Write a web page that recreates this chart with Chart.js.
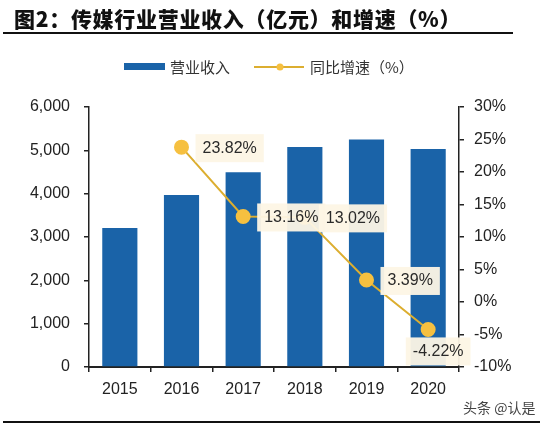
<!DOCTYPE html>
<html>
<head>
<meta charset="utf-8">
<script src="https://cdn.jsdelivr.net/npm/chart.js@4"></script>
<style>
  body { margin: 0; background: #fff; }
  #wrap { position: relative; width: 550px; height: 428px; overflow: hidden; }
  #chart { position: absolute; left: 0; top: 0; }
  #title { position: absolute; left: 14px; top: 3px; font: 900 21px "Noto Sans CJK SC", sans-serif; color: #111; letter-spacing: 0.7px; white-space: nowrap; }
  #topline { position: absolute; left: 3px; top: 32px; width: 510px; height: 2px; background: #111; }
  #bottomline { position: absolute; left: 3px; top: 421px; width: 537px; height: 2px; background: #111; }
  #mark { position: absolute; left: 463px; top: 397px; font: 14px "Noto Sans CJK SC", sans-serif; color: #444; white-space: nowrap; }
</style>
</head>
<body>
<div id="wrap">
  <canvas id="chart" width="550" height="428"></canvas>
  <div id="title">图2：传媒行业营业收入（亿元）和增速（%）</div>
  <div id="topline"></div>
  <div id="bottomline"></div>
  <div id="mark">头条 @认是</div>
</div>
<script>
var years = ['2015', '2016', '2017', '2018', '2019', '2020'];
var revenue = [3207, 3971, 4494, 5079, 5251, 5029];
var growth = [null, 23.82, 13.16, 13.02, 3.39, -4.22];
var growthLabels = ['', '23.82%', '13.16%', '13.02%', '3.39%', '-4.22%'];
var barName = '营业收入';
var lineName = '同比增速（%）';

var barColor = '#1a63a8';
var lineColor = '#dcae30';
var dotColor = '#f6c040';
var tickFont = { family: 'Liberation Sans, Arial, sans-serif', size: 16 };

// legend drawn by hand so it sits where the original one does
var legendPlugin = {
  id: 'handLegend',
  afterDraw: function(chart) {
    var ctx = chart.ctx;
    ctx.save();
    ctx.fillStyle = barColor;
    ctx.fillRect(124, 63, 41, 7);
    ctx.font = '15px "Noto Sans CJK SC", sans-serif';
    ctx.fillStyle = '#333';
    ctx.textBaseline = 'middle';
    ctx.fillText(barName, 170, 67);
    ctx.strokeStyle = lineColor;
    ctx.lineWidth = 2;
    ctx.beginPath();
    ctx.moveTo(254, 67);
    ctx.lineTo(304, 67);
    ctx.stroke();
    ctx.fillStyle = dotColor;
    ctx.beginPath();
    ctx.arc(280, 67, 3.5, 0, Math.PI * 2);
    ctx.fill();
    ctx.fillStyle = '#333';
    ctx.fillText(lineName, 310, 67);
    ctx.restore();
  }
};

// value boxes next to the growth points
var labelPlugin = {
  id: 'growthLabels',
  afterDatasetsDraw: function(chart) {
    var ctx = chart.ctx;
    var pts = chart.getDatasetMeta(1).data;
    ctx.save();
    ctx.font = '16px "Liberation Sans", Arial, sans-serif';
    ctx.textBaseline = 'middle';
    for (var i = 0; i < pts.length; i++) {
      if (growth[i] === null) continue;
      var p = pts[i];
      var txt = growthLabels[i];
      var w = ctx.measureText(txt).width;
      var tx, ty;
      if (i == pts.length - 1) {
        tx = p.x - w / 2 + 10;
        ty = p.y + 22;
      } else {
        tx = p.x + 21;
        ty = p.y + 1;
      }
      ctx.fillStyle = 'rgba(253,245,229,0.95)';
      ctx.fillRect(tx - 7, ty - 14, w + 14, 28);
      ctx.fillStyle = '#2a2a2a';
      ctx.fillText(txt, tx, ty);
    }
    ctx.restore();
  }
};

var ctx = document.getElementById('chart').getContext('2d');
var myChart = new Chart(ctx, {
  type: 'bar',
  data: {
    labels: years,
    datasets: [{
      type: 'bar',
      label: barName,
      data: revenue,
      backgroundColor: barColor,
      categoryPercentage: 1,
      barPercentage: 0.57,
      yAxisID: 'y',
      order: 2
    }, {
      type: 'line',
      label: lineName,
      data: growth,
      borderColor: lineColor,
      borderWidth: 2,
      backgroundColor: dotColor,
      pointBackgroundColor: dotColor,
      pointBorderColor: dotColor,
      pointRadius: 6.5,
      spanGaps: false,
      yAxisID: 'y1',
      order: 1
    }]
  },
  options: {
    responsive: false,
    animation: false,
    layout: { padding: { top: 107, left: 0, right: 0, bottom: 0 } },
    plugins: { legend: { display: false }, tooltip: { enabled: false } },
    scales: {
      x: {
        offset: true,
        grid: { offset: true, drawOnChartArea: false, drawTicks: true, tickLength: 5, color: '#222', lineWidth: 1.5 },
        border: { color: '#222', width: 2 },
        ticks: { color: '#222', font: tickFont, padding: 8 },
        afterFit: function(s) { s.height = 61; }
      },
      y: {
        position: 'left',
        min: 0,
        max: 6000,
        grid: { drawOnChartArea: false, drawTicks: true, tickLength: 5, color: '#222', lineWidth: 1.5 },
        border: { color: '#222', width: 1.5 },
        ticks: {
          stepSize: 1000, color: '#222', font: tickFont, padding: 14,
          callback: function(v) { return v.toLocaleString('en-US'); }
        },
        afterFit: function(s) { s.width = 89; }
      },
      y1: {
        position: 'right',
        min: -10,
        max: 30,
        grid: { drawOnChartArea: false, drawTicks: true, tickLength: 5, color: '#222', lineWidth: 1.5 },
        border: { color: '#222', width: 1.5 },
        ticks: {
          stepSize: 5, color: '#222', font: tickFont, padding: 10,
          callback: function(v) { return v + '%'; }
        },
        afterFit: function(s) { s.width = 91; }
      }
    }
  },
  plugins: [legendPlugin, labelPlugin]
});
</script>
</body>
</html>
